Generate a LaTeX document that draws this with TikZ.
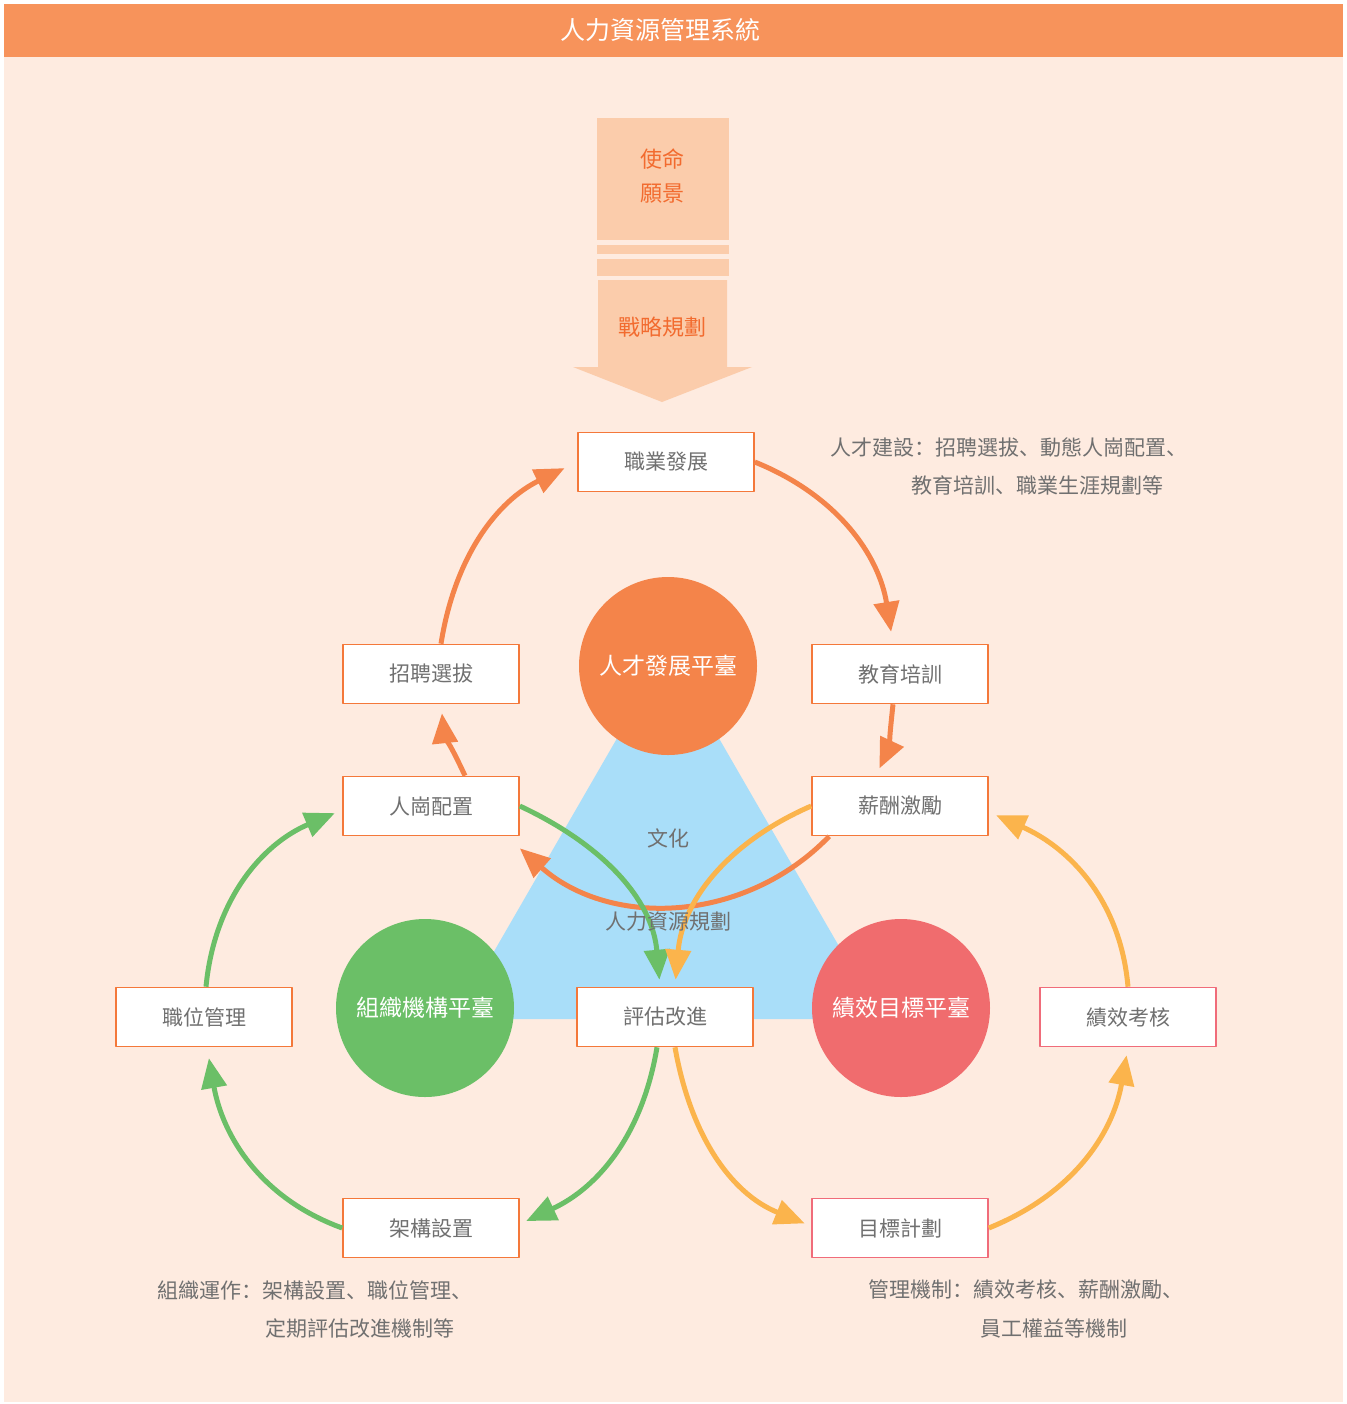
\documentclass[tikz,border=0pt]{standalone}
\usepackage{fontspec}
\setmainfont{Noto Sans CJK SC}
\usetikzlibrary{arrows.meta}
\definecolor{peach}{HTML}{FEEBE0}
\definecolor{band}{HTML}{F7935B}
\definecolor{block}{HTML}{FBCCAB}
\definecolor{blocktext}{HTML}{F26B2F}
\definecolor{sky}{HTML}{A9DEF9}
\definecolor{ora}{HTML}{F4844A}
\definecolor{gre}{HTML}{6BBF67}
\definecolor{ros}{HTML}{F06C6E}
\definecolor{yel}{HTML}{FBB44C}
\definecolor{boxline}{HTML}{F4783A}
\definecolor{boxpink}{HTML}{F06C7A}
\definecolor{gray}{HTML}{707070}
\tikzset{
  every picture/.style={
    line join=round,
    >={Triangle[length=15pt, width=12.5pt]}
  },
  box/.style={
    draw=boxline, fill=white, line width=0.8pt,
    minimum width=88pt, minimum height=29.5pt,
    text=gray, font=\fontsize{10.5}{12}\selectfont
  },
  hub/.style={
    circle, minimum size=89pt, inner sep=0pt,
    text=white, font=\fontsize{11.5}{13}\selectfont
  }
}
\begin{document}
\begin{tikzpicture}[
      x=0.5pt, y=-0.5pt,
      flow/.style={line width=2.5pt, ->},
      note/.style={anchor=west, inner sep=0pt, text=gray, font=\fontsize{10.5}{12}\selectfont},
      label/.style={text=blocktext, font=\fontsize{11}{13}\selectfont}
    ]
      \useasboundingbox (0,0) rectangle (1346,1404);
      \fill[white] (0,0) rectangle (1346,1404);
      \fill[peach] (4,4) rectangle (1343,1402);
      \fill[band] (4,4) rectangle (1343,57);
      \node[text=white, font=\fontsize{12.5}{14}\selectfont] (title) at (660,30) {人力資源管理系統};
      % arrow at the top
      \fill[block] (597,118) rectangle (729,240);
      \fill[block] (597,245) rectangle (729,254);
      \fill[block] (597,259) rectangle (729,276);
      \fill[block] (598,280) -- (727,280) -- (727,367) -- (752,367) -- (662,402)
        -- (573,367) -- (598,367) -- cycle;
      \node[label] (mission) at (662,159) {使命};
      \node[label] (vision) at (662,194) {願景};
      \node[label] (strategy) at (662,327) {戰略規劃};
      % triangle and hubs
      \fill[sky] (668,650) -- (881,1019) -- (455,1019) -- cycle;
      \node[hub, fill=ora] (talent) at (668,666) {人才發展平臺};
      \node[hub, fill=gre] (org) at (425,1008) {組織機構平臺};
      \node[hub, fill=ros] (perf) at (901,1008) {績效目標平臺};
      % boxes
      \node[box] (career) at (666,462) {職業發展};
      \node[box] (recruit) at (431,674) {招聘選拔};
      \node[box] (training) at (900,674) {教育培訓};
      \node[box] (staffing) at (431,806) {人崗配置};
      \node[box] (salary) at (900,806) {薪酬激勵};
      \node[box] (position) at (204,1017) {職位管理};
      \node[box] (review) at (665,1017) {評估改進};
      \node[box, draw=boxpink] (appraisal) at (1128,1017) {績效考核};
      \node[box] (structure) at (431,1228) {架構設置};
      \node[box, draw=boxpink] (goal) at (900,1228) {目標計劃};
      % orange cycle
      \draw[flow, ora, shorten >=7pt] ([xshift=5pt]recruit.north) to[out=81, in=206] (career.west);
      \draw[flow, ora, shorten >=6pt] (career.east) to[out=-22, in=99] ([xshift=-3.5pt]training.north);
      \draw[flow, ora, shorten >=4pt] ([xshift=-3.5pt]training.south) to[out=-96, in=65] ([xshift=-12pt]salary.north);
      \draw[flow, ora] ([xshift=9pt]salary.south west) to[out=-134, in=-41.5] ([yshift=-6pt]staffing.south east);
      \draw[flow, ora, shorten >=4.5pt] ([xshift=17pt]staffing.north) to[out=115, in=-84] ([xshift=5pt]recruit.south);
      % green cycle
      \draw[flow, gre, shorten >=3.5pt] (staffing.east) to[out=-25, in=95] ([xshift=-2.5pt]review.north);
      \draw[flow, gre, shorten >=3.5pt] ([xshift=-4pt]review.south) to[out=-99.5, in=25] ([yshift=2pt]structure.east);
      \draw[flow, gre, shorten >=5.5pt] (structure.west) to[out=160, in=-80] ([xshift=1.5pt]position.south);
      \draw[flow, gre, shorten >=4pt] ([xshift=1pt]position.north) to[out=84.5, in=203] ([yshift=-2pt]staffing.west);
      % yellow cycle
      \draw[flow, yel, shorten >=3.5pt] (salary.west) to[out=203.5, in=85] ([xshift=5pt]review.north);
      \draw[flow, yel, shorten >=3.5pt] ([xshift=5pt]review.south) to[out=-80, in=158] ([yshift=1pt]goal.west);
      \draw[flow, yel, shorten >=4pt] (goal.east) to[out=22, in=-100] (appraisal.south);
      \draw[flow, yel, shorten >=4pt] (appraisal.north) to[out=95, in=-24] ([yshift=-3pt]salary.east);
      % texts
      \node[text=gray, font=\fontsize{10.5}{12}\selectfont] (culture) at (668,838) {文化};
      \node[text=gray, font=\fontsize{10.5}{12}\selectfont] (planning) at (668,922) {人力資源規劃};
      \node[note] (talentnote) at (830,448) {人才建設：招聘選拔、動態人崗配置、};
      \node[note] (talentnote2) at (911,485) {教育培訓、職業生涯規劃等};
      \node[note] (orgnote) at (157,1290) {組織運作：架構設置、職位管理、};
      \node[note] (orgnote2) at (265,1328) {定期評估改進機制等};
      \node[note] (perfnote) at (868,1290) {管理機制：績效考核、薪酬激勵、};
      \node[note] (perfnote2) at (980,1328) {員工權益等機制};
    \end{tikzpicture}
\end{document}
